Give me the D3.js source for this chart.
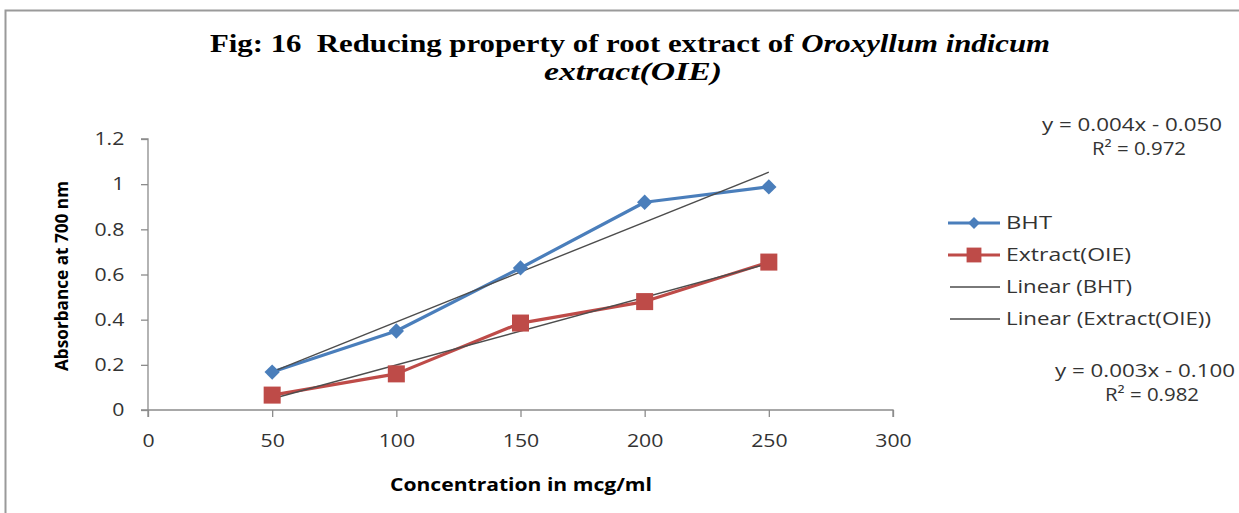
<!DOCTYPE html>
<html>
<head>
<meta charset="utf-8">
<script src="https://cdn.jsdelivr.net/npm/d3@7"></script>
<style>
  body { margin: 0; background: #fff; }
  svg { display: block; }
</style>
</head>
<body>
<div id="chart"></div>
<script>
// ---- data ----
const concentrations = [50, 100, 150, 200, 250];
const bhtValues = [0.168, 0.350, 0.629, 0.920, 0.988];
const extractValues = [0.066, 0.160, 0.385, 0.480, 0.655];
const xTicks = [0, 50, 100, 150, 200, 250, 300];
const yTicks = [0, 0.2, 0.4, 0.6, 0.8, 1, 1.2];
const legendLabels = ["BHT", "Extract(OIE)", "Linear (BHT)", "Linear (Extract(OIE))"];
const equations = [["y = 0.004x - 0.050", "R\u00B2 = 0.972"], ["y = 0.003x - 0.100", "R\u00B2 = 0.982"]];

const width = 1239, height = 513;
const blue = "#4a7ebb", red = "#be4b48", trendColor = "#4d4d4d";
const sans = "'Open Sans', 'Noto Sans', sans-serif";

const svg = d3.select("#chart").append("svg")
  .attr("width", width)
  .attr("height", height);

// frame of the chart area
svg.append("path")
  .attr("d", "M5.5," + height + "V10.5H" + width)
  .attr("fill", "none")
  .attr("stroke", "#9a9a9a")
  .attr("stroke-width", 2);

// title
const title = svg.append("g").attr("font-family", "'Liberation Serif', 'Times New Roman', serif")
  .attr("font-weight", "bold").attr("fill", "#000").attr("font-size", 25);
const t1 = title.append("text").attr("x", 630).attr("y", 52).attr("text-anchor", "middle")
  .attr("textLength", 840).attr("lengthAdjust", "spacingAndGlyphs");
t1.append("tspan").text("Fig: 16\u00A0 Reducing property of root extract of ");
t1.append("tspan").attr("font-style", "italic").text("Oroxyllum indicum");
title.append("text").attr("x", 633).attr("y", 80).attr("text-anchor", "middle")
  .attr("font-style", "italic").attr("textLength", 178).attr("lengthAdjust", "spacingAndGlyphs")
  .text("extract(OIE)");

// scales
const x = d3.scaleLinear().domain([0, 300]).range([148, 893]);
const y = d3.scaleLinear().domain([0, 1.2]).range([410, 139]);

// axes
const xAxis = svg.append("g").attr("transform", "translate(0," + y(0) + ")")
  .call(d3.axisBottom(x).tickValues(xTicks).tickSize(7).tickPadding(17).tickFormat(d3.format("d")));
const yAxis = svg.append("g").attr("transform", "translate(" + x(0) + ",0)")
  .call(d3.axisLeft(y).tickValues(yTicks).tickSize(7).tickPadding(12).tickFormat(d => String(+d.toFixed(1))));
[xAxis, yAxis].forEach(a => {
  a.select(".domain").attr("stroke", "#8c8c8c").attr("stroke-width", 1.3);
  a.selectAll(".tick line").attr("stroke", "#8c8c8c").attr("stroke-width", 1.3);
  a.selectAll(".tick text").attr("font-family", sans).attr("font-size", 18).attr("fill", "#333")
    .attr("transform", "scale(1.18,1)");
});
yAxis.selectAll(".tick text").attr("x", -19 / 1.18 - 4);
xAxis.select(".domain").attr("d", "M" + x(0) + ",0V7M" + x(0) + ",0H" + x(300) + "V7");
yAxis.select(".domain").attr("d", "M-7," + y(1.2) + "H0V" + y(0) + "H-7");

// axis titles
svg.append("text")
  .attr("transform", "translate(68," + 276 + ") rotate(-90)")
  .attr("text-anchor", "middle")
  .attr("font-family", sans).attr("font-weight", "bold").attr("font-size", 18)
  .attr("textLength", 190).attr("lengthAdjust", "spacingAndGlyphs")
  .text("Absorbance at 700 nm");
svg.append("text")
  .attr("x", 521).attr("y", 491).attr("text-anchor", "middle")
  .attr("font-family", sans).attr("font-weight", "bold").attr("font-size", 17)
  .attr("textLength", 262).attr("lengthAdjust", "spacingAndGlyphs")
  .text("Concentration in mcg/ml");

// linear trendlines (least squares on each series)
function fit(xs, ys) {
  const mx = d3.mean(xs), my = d3.mean(ys);
  const b = d3.sum(xs, (v, i) => (v - mx) * (ys[i] - my)) / d3.sum(xs, v => (v - mx) * (v - mx));
  return { b: b, a: my - b * mx };
}
const series = [
  { values: bhtValues, color: blue, marker: "diamond" },
  { values: extractValues, color: red, marker: "square" }
];
const line = d3.line().x(d => x(d[0])).y(d => y(d[1]));

series.forEach(s => {
  const pts = concentrations.map((c, i) => [c, s.values[i]]);
  svg.append("path").datum(pts)
    .attr("d", line).attr("fill", "none")
    .attr("stroke", s.color).attr("stroke-width", 3.2).attr("stroke-linejoin", "round");
});
series.forEach(s => {
  const f = fit(concentrations, s.values);
  const ends = [concentrations[0], concentrations[concentrations.length - 1]].map(c => [c, f.a + f.b * c]);
  svg.append("path").datum(ends)
    .attr("d", line).attr("fill", "none")
    .attr("stroke", trendColor).attr("stroke-width", 1.4);
});

const diamond = d3.symbol().type(d3.symbolDiamond2).size(150);
const square = d3.symbol().type(d3.symbolSquare).size(290);
series.forEach(s => {
  svg.append("g").selectAll("path")
    .data(concentrations.map((c, i) => [c, s.values[i]]))
    .join("path")
    .attr("transform", d => "translate(" + x(d[0]) + "," + y(d[1]) + ")")
    .attr("d", s.marker === "diamond" ? diamond : square)
    .attr("fill", s.color);
});

// legend
const legend = svg.append("g").attr("font-family", sans).attr("font-size", 18).attr("fill", "#333");
const legendY = [223, 255, 287, 319];
const legendWidths = [46, 125, 126, 205];
legendLabels.forEach((lab, i) => {
  const g = legend.append("g").attr("transform", "translate(0," + legendY[i] + ")");
  if (i < 2) {
    g.append("line").attr("x1", 948).attr("x2", 1000).attr("stroke", series[i].color).attr("stroke-width", 3.2);
    g.append("path").attr("transform", "translate(974,0)")
      .attr("d", i === 0 ? d3.symbol().type(d3.symbolDiamond2).size(90)() : d3.symbol().type(d3.symbolSquare).size(220)())
      .attr("fill", series[i].color);
  } else {
    g.append("line").attr("x1", 950).attr("x2", 1000).attr("stroke", trendColor).attr("stroke-width", 1.4);
  }
  g.append("text").attr("x", 1006).attr("dy", "0.35em")
    .attr("textLength", legendWidths[i]).attr("lengthAdjust", "spacingAndGlyphs").text(lab);
});

// equation labels
const eqPos = [[1132, 131], [1145, 377]];
equations.forEach((eq, i) => {
  const g = svg.append("g").attr("font-family", sans).attr("font-size", 18).attr("fill", "#333")
    .attr("text-anchor", "middle");
  g.append("text").attr("x", eqPos[i][0]).attr("y", eqPos[i][1])
    .attr("textLength", 180).attr("lengthAdjust", "spacingAndGlyphs").text(eq[0]);
  g.append("text").attr("x", eqPos[i][0] + 7).attr("y", eqPos[i][1] + 24)
    .attr("textLength", 94).attr("lengthAdjust", "spacingAndGlyphs").text(eq[1]);
});
</script>
</body>
</html>
